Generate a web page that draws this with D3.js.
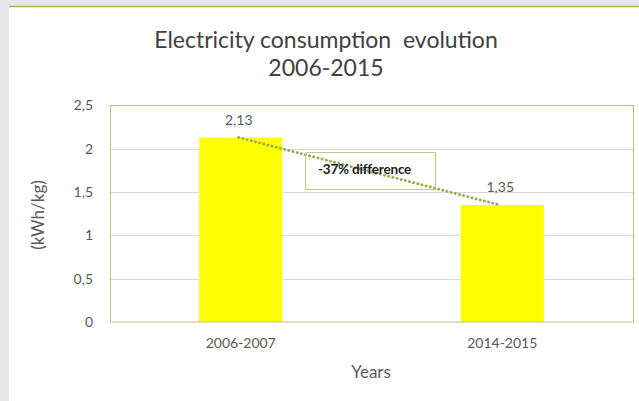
<!DOCTYPE html>
<html>
<head>
<meta charset="utf-8">
<script src="https://cdn.jsdelivr.net/npm/d3@7"></script>
<style>
  html, body { margin: 0; padding: 0; background: #e5e6e8; }
  svg { display: block; }
</style>
</head>
<body>
<svg id="chart" width="639" height="401"></svg>
<script>
// Chart data
const categories = ["2006-2007", "2014-2015"];
const values = [2.13, 1.35];
const valueLabels = ["2,13", "1,35"];
const yTicks = [0, 0.5, 1, 1.5, 2, 2.5];
const yTickLabels = ["0", "0,5", "1", "1,5", "2", "2,5"];
const titleLines = ["Electricity consumption  evolution", "2006-2015"];
const annotation = "-37% difference";

const svg = d3.select("#chart");
const font = "Lato, 'Open Sans', sans-serif";

// panel background with top accent line
svg.append("rect").attr("x", 0).attr("y", 0).attr("width", 639).attr("height", 401).attr("fill", "#e5e6e8");
svg.append("rect").attr("x", 9).attr("y", 6).attr("width", 630).attr("height", 395).attr("fill", "#ffffff");
svg.append("line").attr("x1", 9).attr("x2", 639).attr("y1", 6.5).attr("y2", 6.5)
  .attr("stroke", "#9fb46a").attr("stroke-width", 1.5);

const plot = { left: 110, right: 633, top: 105.5, bottom: 322 };

const x = d3.scaleBand().domain(categories).range([plot.left, plot.right]).padding(0);
const y = d3.scaleLinear().domain([0, 2.5]).range([plot.bottom, plot.top]);
const barW = x.bandwidth() * 0.318;

// gridlines
svg.append("g").selectAll("line").data(yTicks.slice(1, -1)).join("line")
  .attr("x1", plot.left).attr("x2", plot.right)
  .attr("y1", d => Math.round(y(d)) + 0.5).attr("y2", d => Math.round(y(d)) + 0.5)
  .attr("stroke", "#d9d9d9").attr("stroke-width", 1);

// bars
svg.append("g").selectAll("rect").data(values).join("rect")
  .attr("x", (d, i) => x(categories[i]) + x.bandwidth() / 2 - barW / 2)
  .attr("y", d => y(d))
  .attr("width", barW)
  .attr("height", d => y(0) - y(d))
  .attr("fill", "#ffff00");

// plot frame
svg.append("rect")
  .attr("x", plot.left + 0.5).attr("y", plot.top)
  .attr("width", plot.right - plot.left).attr("height", plot.bottom - plot.top)
  .attr("fill", "none").attr("stroke", "#b8bd84").attr("stroke-width", 1);

// y axis labels
const yAxis = d3.axisLeft(y).tickValues(yTicks).tickSize(0).tickPadding(0)
  .tickFormat((d, i) => yTickLabels[i]);
const gy = svg.append("g").attr("transform", `translate(${plot.left - 17},0)`).call(yAxis);
gy.select(".domain").remove();
gy.selectAll("text").attr("font-family", font).attr("font-size", 14).attr("fill", "#595959");

// x axis labels
const xAxis = d3.axisBottom(x).tickSize(0).tickPadding(0);
const gx = svg.append("g").attr("transform", `translate(0,${plot.bottom + 16})`).call(xAxis);
gx.select(".domain").remove();
gx.selectAll("text").attr("font-family", font).attr("font-size", 14).attr("fill", "#595959");

// value labels
svg.append("g").selectAll("text").data(values).join("text")
  .attr("x", (d, i) => x(categories[i]) + x.bandwidth() / 2 - 2)
  .attr("y", d => y(d) - 13)
  .attr("text-anchor", "middle")
  .attr("font-family", font).attr("font-size", 14).attr("fill", "#595959")
  .text((d, i) => valueLabels[i]);

// trend line between bar tops
const p0 = [x(categories[0]) + x.bandwidth() / 2 - 2, y(values[0])];
const p1 = [x(categories[1]) + x.bandwidth() / 2 - 2, y(values[1])];
svg.append("line")
  .attr("x1", p0[0]).attr("y1", p0[1]).attr("x2", p1[0]).attr("y2", p1[1])
  .attr("stroke", "#9aae55").attr("stroke-width", 3)
  .attr("stroke-dasharray", "0.1 4.2").attr("stroke-linecap", "round");

// annotation box
svg.append("rect").attr("x", 305.5).attr("y", 152.5).attr("width", 130).attr("height", 37)
  .attr("fill", "none").attr("stroke", "#c2c78d").attr("stroke-width", 1);
svg.append("text").attr("x", 318).attr("y", 174)
  .attr("font-family", font).attr("font-size", 13.5).attr("font-weight", "bold")
  .attr("fill", "#1a1a1a").attr("letter-spacing", -0.2)
  .text(annotation);

// title
svg.append("g").selectAll("text").data(titleLines).join("text")
  .attr("x", 326).attr("y", (d, i) => 48 + i * 28)
  .attr("text-anchor", "middle")
  .attr("font-family", font).attr("font-size", 23).attr("fill", "#404040")
  .attr("xml:space", "preserve").style("white-space", "pre")
  .text(d => d);

// axis titles
svg.append("text").attr("x", 371).attr("y", 378).attr("text-anchor", "middle")
  .attr("font-family", font).attr("font-size", 17).attr("fill", "#595959").text("Years");
svg.append("text")
  .attr("transform", "translate(44,215) rotate(-90)")
  .attr("text-anchor", "middle")
  .attr("font-family", font).attr("font-size", 17).attr("fill", "#595959").text("(kWh/kg)");
</script>
</body>
</html>
